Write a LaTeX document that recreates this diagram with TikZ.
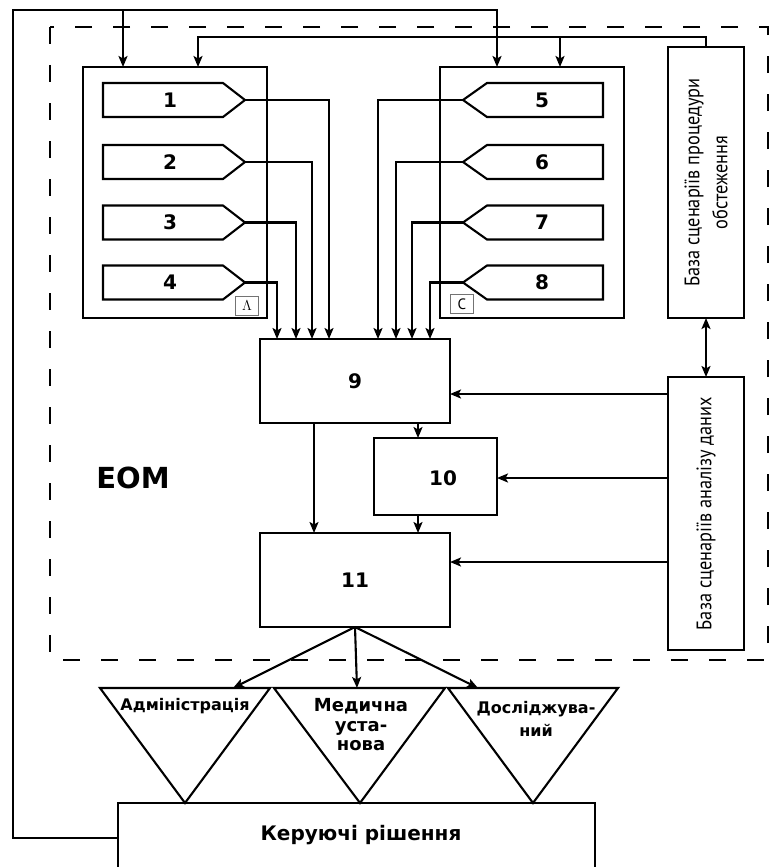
\documentclass[tikz,border=0pt]{standalone}
\usepackage{fontspec}
\setmainfont{PT Sans}
\newfontfamily\dvs{DejaVu Sans}
\newfontfamily\narrowfont[FakeStretch=0.87]{PT Sans}
\usetikzlibrary{arrows.meta,calc}
\begin{document}
\begin{tikzpicture}[x=1pt,y=-1pt,
  ln/.style={line width=2.1pt},
  arr/.style={ln,-{Stealth[length=11pt,width=9pt,inset=2.5pt]}},
  dbl/.style={ln,{Stealth[length=11pt,width=9pt,inset=2.5pt]}-{Stealth[length=11pt,width=9pt,inset=2.5pt]}},
  blk/.style={draw,ln,rectangle,inner sep=0pt,outer sep=0pt},
  dsh/.style={line width=2.8pt,dash pattern=on 17pt off 21pt},
  tag/.style={draw=black!55,line width=1pt,minimum width=23pt,minimum height=19pt,inner sep=0pt,font=\fontsize{15}{15}\selectfont},
  num/.style={inner sep=0pt,font=\dvs\bfseries\fontsize{20}{20}\selectfont},
  lbl/.style={inner sep=0pt,align=center,font=\dvs\bfseries\fontsize{16}{19}\selectfont},
  vtxt/.style={rotate=90,inner sep=0pt,align=center,font=\narrowfont\fontsize{21}{28}\selectfont}
]
\fill[white] (0,0) rectangle (770,867);
\useasboundingbox (0,0) rectangle (770,867);

% main blocks
\node[blk,minimum width=184pt,minimum height=251pt] (A) at (175,192.5) {};
\node[blk,minimum width=184pt,minimum height=251pt] (C) at (532,192.5) {};
\node[blk,minimum width=76pt,minimum height=271pt] (B1) at (706,182.5) {};
\node[vtxt] (B1t) at (B1) {База сценаріїв процедури\\обстеження};
\node[blk,minimum width=76pt,minimum height=273pt] (B2) at (706,513.5) {};
\node[vtxt] (B2t) at (B2) {База сценаріїв аналізу даних};
\node[blk,num,minimum width=190pt,minimum height=84pt] (n9) at (355,381) {9};
\node[blk,minimum width=123pt,minimum height=77pt] (n10) at (435.5,476.5) {};
\node[num] (n10t) at (443,478) {10};
\node[blk,num,minimum width=190pt,minimum height=94pt] (n11) at (355,580) {11};
\node[blk,minimum width=477pt,minimum height=80pt] (K) at (356.5,843) {};
\node[font=\dvs\bfseries\fontsize{20}{20}\selectfont] (Kt) at (361,835) {Керуючі рішення};
\node[font=\dvs\bfseries\fontsize{29}{29}\selectfont] (eom) at (133,478) {ЕОМ};

% pentagons
\foreach \i/\y in {1/100,2/162,3/222.5,4/282.5}{
  \draw[ln,line join=miter] (103,\y-17) -- (223,\y-17) -- (245,\y) -- (223,\y+17) -- (103,\y+17) -- cycle;
  \node[num] (p\i) at (170,\y) {\i};
  \coordinate (t\i) at (245,\y);
}
\foreach \i/\y in {5/100,6/162,7/222.5,8/282.5}{
  \draw[ln,line join=miter] (603,\y-17) -- (487,\y-17) -- (463,\y) -- (487,\y+17) -- (603,\y+17) -- cycle;
  \node[num] (p\i) at (542,\y) {\i};
  \coordinate (t\i) at (463,\y);
}
\node[tag] (tagL) at (247,306) {$\Lambda$};
\node[tag] (tagC) at (462,304) {С};

\foreach \i/\dx in {1/-26,2/-43,3/-59,4/-78,5/23,6/41,7/57,8/75}
  \draw[arr] (t\i) -| ([xshift=\dx pt]n9.north);

% feedback lines at top
\coordinate (j1) at (123,10);
\coordinate (j2) at (560,37);
\draw[arr] ([yshift=5pt]K.west) -| (13,10) -| ([xshift=-35pt]C.north);
\draw[arr] (j1) -- (j1 |- A.north);
\draw[arr] (B1.north) |- ([xshift=23pt,yshift=30pt]A.north) -- ([xshift=23pt]A.north);
\draw[arr] (j2) -- (j2 |- C.north);

% dashed boundary
\draw[dsh] (50,27) rectangle (768,660);

% data base links
\draw[dbl] (B1.south) -- (B2.north);
\draw[arr] ($(B2.west|-n9.east)+(0,13)$) -- ($(n9.east)+(0,13)$);
\draw[arr] ($(B2.west|-n10.east)+(0,1.5)$) -- ($(n10.east)+(0,1.5)$);
\draw[arr] ($(B2.west|-n11.east)+(0,-18)$) -- ($(n11.east)+(0,-18)$);

\draw[arr] ($(n9.south)+(63,0)$) -- ($(n10.north)+(-17.5,0)$);
\draw[arr] ($(n10.south)+(-17.5,0)$) -- ($(n11.north)+(63,0)$);
\draw[arr] ($(n9.south)+(-41,0)$) -- ($(n11.north)+(-41,0)$);

% triangles
\draw[ln,line join=miter] (100,688) -- (270,688) -- (185,803) -- cycle;
\draw[ln,line join=miter] (274,688) -- (445,688) -- (360,803) -- cycle;
\draw[ln,line join=miter] (448,688) -- (618,688) -- (533,803) -- cycle;
\node[lbl] (L1) at (185,706) {Адміністрація};
\node[lbl,font=\dvs\bfseries\fontsize{18}{19.5}\selectfont] (L2) at (361,725) {Медична\\уста-\\нова};
\node[lbl,font=\dvs\bfseries\fontsize{16}{23}\selectfont] (L3) at (536,719) {Досліджува-\\ний};
\coordinate (T1) at (233,688);
\coordinate (T2) at (357,688);
\coordinate (T3) at (478,688);
\draw[arr] (n11.south) -- (T1);
\draw[arr] (n11.south) -- (T2);
\draw[arr] (n11.south) -- (T3);
\end{tikzpicture}
\end{document}
